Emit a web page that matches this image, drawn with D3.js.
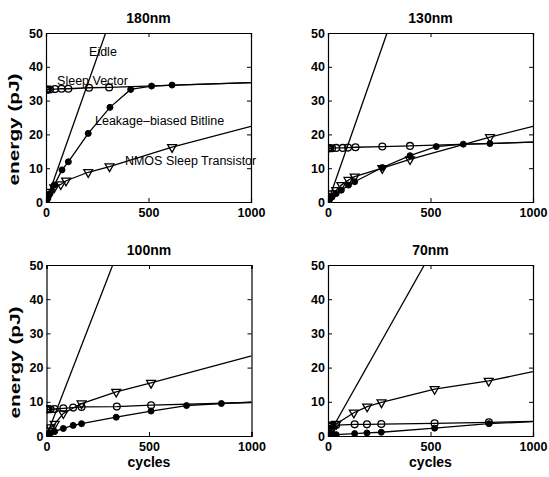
<!DOCTYPE html>
<html><head><meta charset="utf-8">
<script src="https://cdn.jsdelivr.net/npm/d3@7"></script>
<style>
body{margin:0;background:#fff;}
text{font-family:"Liberation Sans",Arial,Helvetica,sans-serif;}
</style></head>
<body>
<svg id="chart" width="549" height="477"></svg>
<script>
// ---------- data ----------
const titles = ["180nm", "130nm", "100nm", "70nm"];
const xTicks = [0, 500, 1000];
const yTicks = [0, 10, 20, 30, 40, 50];
const seriesNames = ["Eidle", "Sleep Vector", "Leakage\u2013biased Bitline", "NMOS Sleep Transistor"];

// [cycles, energy pJ]
const eidle180 = [[0,0],[291,50]];
const sleep180 = [[0,33.2],[2,33.2],[5,33.2],[10,33.3],[20,33.3],[44,33.4],[76,33.5],[109,33.5],[210,33.8],[308,33.9],[1000,35.3]];
const lbb180   = [[0,0],[5,0.8],[10,1.5],[20,2.5],[40,5],[78,9.5],[109,11.9],[206,20.3],[312,28],[413,33.3],[515,34.3],[615,34.6],[1000,35.3]];
const nmos180  = [[0,0],[5,1],[10,2],[20,3],[40,4.3],[72,5.2],[98,6.3],[206,8.8],[310,10.5],[615,16.2],[1000,22.4]];

const eidle130 = [[0,0],[288,50]];
const sleep130 = [[0,15.9],[2,15.9],[5,15.9],[10,15.9],[20,15.9],[40,16],[72,16],[98,16.1],[134,16.2],[265,16.4],[400,16.6],[1000,17.7]];
const lbb130   = [[0,0],[5,0.5],[10,1],[20,1.5],[40,2.5],[65,3.5],[100,5],[130,6],[265,10.2],[400,13.7],[528,16.4],[660,17.1],[790,17.3],[1000,17.7]];
const nmos130  = [[0,0],[5,0.8],[10,1.5],[20,2.5],[40,3.5],[65,5],[100,6.5],[130,7.5],[265,10],[400,12.6],[790,19.2],[1000,22.4]];

const eidle100 = [[0,0],[323,50]];
const sleep100 = [[0,7.8],[2,7.8],[5,7.8],[10,7.8],[20,7.8],[40,7.9],[82,8.1],[130,8.3],[171,8.5],[343,8.6],[510,9.0],[1000,9.8]];
const lbb100   = [[0,0],[5,0.3],[10,0.6],[20,0.9],[40,1.3],[82,2.2],[130,3.1],[171,3.6],[340,5.5],[510,7.3],[683,8.9],[853,9.5],[1000,9.9]];
const nmos100  = [[0,0],[5,0.8],[10,1.5],[20,2.5],[40,3.5],[82,6.6],[171,9.5],[340,12.9],[510,15.5],[1000,23.4]];

const eidle70 = [[0,0],[470,50]];
const sleep70 = [[0,3.0],[2,3.0],[5,3.0],[10,3.0],[20,3.1],[40,3.2],[130,3.4],[190,3.4],[260,3.5],[520,3.7],[785,4.0],[1000,4.3]];
const lbb70   = [[0,0],[5,0.1],[10,0.2],[20,0.3],[40,0.4],[130,0.7],[190,0.9],[260,1.1],[520,2.3],[785,3.6],[1000,4.2]];
const nmos70  = [[0,0],[5,0.5],[10,1],[20,2],[40,3.5],[126,6.8],[191,8.6],[261,9.8],[520,13.7],[784,16.1],[1000,18.8]];

// annotation anchors (data coords) for the 180nm panel
const labelAnchors = [[210,43.3],[54,34.6],[239,22.8],[385,10.9]];

// ---------- drawing ----------
const panelData = [
  [eidle180, sleep180, lbb180, nmos180],
  [eidle130, sleep130, lbb130, nmos130],
  [eidle100, sleep100, lbb100, nmos100],
  [eidle70,  sleep70,  lbb70,  nmos70]
];
const boxes = [
  {l:46, t:33, w:205, h:169},
  {l:328, t:33, w:205, h:169},
  {l:46.5, t:265, w:205, h:171},
  {l:328, t:265, w:205, h:171}
];
const svg = d3.select("#chart");
const markerType = [null, "circle", "dot", "tri"];

panelData.forEach((series, i) => {
  const b = boxes[i];
  const g = svg.append("g").attr("transform", `translate(${b.l},${b.t})`);
  const x = d3.scaleLinear().domain([0, 1000]).range([0, b.w]);
  const y = d3.scaleLinear().domain([0, 50]).range([b.h, 0]);

  g.append("clipPath").attr("id", "clip" + i)
    .append("rect").attr("x", 0).attr("y", 0).attr("width", b.w).attr("height", b.h);

  // axes
  const ax = g.append("g").attr("transform", `translate(0,${b.h})`)
    .call(d3.axisBottom(x).tickValues(xTicks).tickSize(-4).tickPadding(6).tickFormat(d3.format("d")));
  const ay = g.append("g")
    .call(d3.axisLeft(y).tickValues(yTicks).tickSize(-4).tickPadding(3).tickFormat(d3.format("d")));
  const axT = g.append("g").call(d3.axisTop(x).tickValues(xTicks).tickSize(-4).tickFormat(""));
  const ayR = g.append("g").attr("transform", `translate(${b.w},0)`)
    .call(d3.axisRight(y).tickValues(yTicks).tickSize(-4).tickFormat(""));
  [ax, ay, axT, ayR].forEach(a => {
    a.select(".domain").attr("stroke", "#000").attr("stroke-width", 1.2);
    a.selectAll(".tick line").attr("stroke", "#000").attr("stroke-width", 1);
    a.selectAll("text").attr("fill", "#000").attr("font-size", 12.5).attr("font-weight", "bold")
      .attr("font-family", '"Liberation Sans",Arial,Helvetica,sans-serif');
  });
  ax.selectAll("text").attr("dy", "0.72em");

  // title
  g.append("text").attr("x", b.w / 2).attr("y", -10.5).attr("text-anchor", "middle")
    .attr("font-size", 14).attr("font-weight", "bold").text(titles[i]);

  if (i % 2 === 0) {
    g.append("text")
      .attr("transform", `translate(-27,${b.h / 2 + 12}) rotate(-90)`)
      .attr("text-anchor", "middle").attr("font-size", 15.5).attr("font-weight", "bold")
      .attr("textLength", 112).attr("lengthAdjust", "spacingAndGlyphs")
      .text("energy (pJ)");
  }
  if (i >= 2) {
    g.append("text").attr("x", b.w / 2).attr("y", b.h + 31).attr("text-anchor", "middle")
      .attr("font-size", 14).attr("font-weight", "bold").text("cycles");
  }

  const plot = g.append("g").attr("clip-path", `url(#clip${i})`);
  const line = d3.line().x(d => x(d[0])).y(d => y(d[1]));
  series.forEach((pts, s) => {
    plot.append("path").datum(pts).attr("d", line)
      .attr("fill", "none").attr("stroke", "#000").attr("stroke-width", 1.3);
    const mt = markerType[s];
    if (!mt) return;
    const mp = pts.slice(0, pts.length - 1);
    if (mt === "circle") {
      plot.selectAll(null).data(mp).enter().append("circle")
        .attr("cx", d => x(d[0])).attr("cy", d => y(d[1])).attr("r", 3.4)
        .attr("fill", "none").attr("stroke", "#000").attr("stroke-width", 1.3);
    } else if (mt === "dot") {
      plot.selectAll(null).data(mp).enter().append("circle")
        .attr("cx", d => x(d[0])).attr("cy", d => y(d[1])).attr("r", 3)
        .attr("fill", "#000").attr("stroke", "#000").attr("stroke-width", 1);
    } else {
      const tri = d3.symbol().type(d3.symbolTriangle).size(34);
      plot.selectAll(null).data(mp).enter().append("path")
        .attr("d", tri)
        .attr("transform", d => `translate(${x(d[0])},${y(d[1])}) rotate(180)`)
        .attr("fill", "none").attr("stroke", "#000").attr("stroke-width", 1.3);
    }
  });

  if (i === 0) {
    seriesNames.forEach((n, k) => {
      g.append("text").attr("x", x(labelAnchors[k][0])).attr("y", y(labelAnchors[k][1]))
        .attr("font-size", 12.5).attr("fill", "#000").text(n);
    });
  }
});
</script>
</body></html>
